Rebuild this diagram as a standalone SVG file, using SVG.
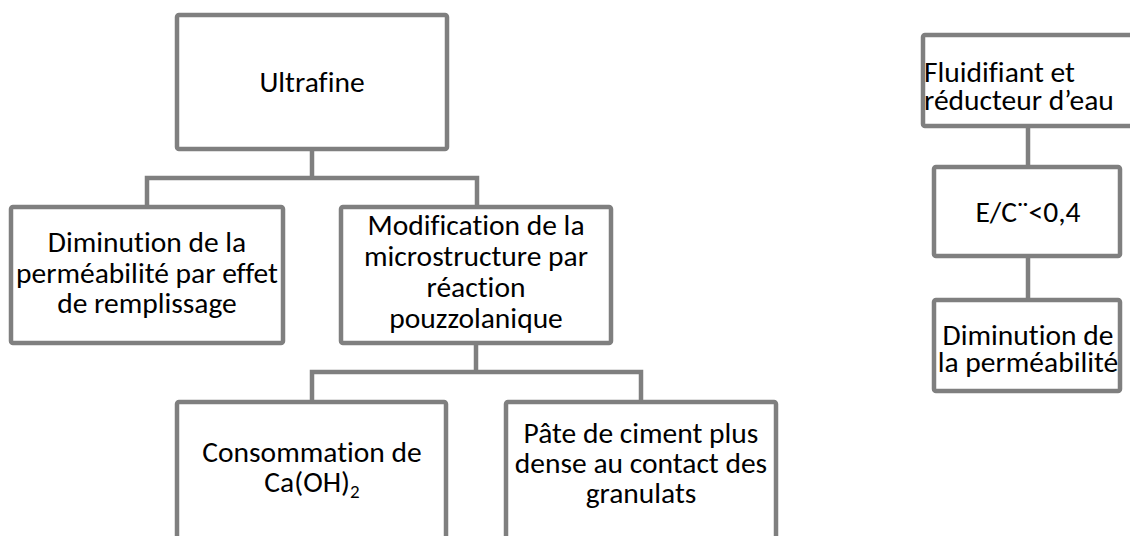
<svg xmlns="http://www.w3.org/2000/svg" width="1130" height="536" viewBox="0 0 1130 536">
<style>
.box{fill:#fff;stroke:#7f7f7f;stroke-width:4.5}
.con{fill:none;stroke:#7f7f7f;stroke-width:4.5}
text{font-family:Carlito,Calibri,Lato,"Liberation Sans",sans-serif;font-size:29.5px;fill:#000;text-anchor:middle;font-variant-ligatures:none;font-feature-settings:"liga" 0,"dlig" 0}
.l{text-anchor:start}
</style>
<rect width="1130" height="536" fill="#fff"/>
<g id="connectors">
<path class="con" d="M312 149V178M147 207V178H477V207"/>
<path class="con" d="M476 343V372M312 402V372H641V402"/>
<path class="con" d="M1028 126V167M1028 256V300"/>
</g>
<g id="ultrafine"><rect class="box" x="177" y="15" width="270" height="134" rx="2"/>
<text x="312" y="92">Ultrafine</text></g>
<g id="diminution"><rect class="box" x="11" y="207" width="272" height="136" rx="2"/>
<text x="147" y="252">Diminution de la<tspan x="147" dy="30.5">perméabilité par effet</tspan><tspan x="147" dy="30.5">de remplissage</tspan></text></g>
<g id="modification"><rect class="box" x="341" y="207" width="270" height="136" rx="2"/>
<text x="476" y="235">Modification de la<tspan x="476" dy="31">microstructure par</tspan><tspan x="476" dy="31">réaction</tspan><tspan x="476" dy="31">pouzzolanique</tspan></text></g>
<g id="consommation"><rect class="box" x="177" y="402" width="269" height="142" rx="2"/>
<text x="312" y="462">Consommation de<tspan x="312" dy="30">Ca(OH)</tspan><tspan font-size="19" dy="6">2</tspan></text></g>
<g id="pate"><rect class="box" x="506" y="402" width="270" height="142" rx="2"/>
<text x="641" y="443">Pâte de ciment plus<tspan x="641" dy="30">dense au contact des</tspan><tspan x="641" dy="29.5">granulats</tspan></text></g>
<g id="fluidifiant"><rect class="box" x="923" y="35" width="220" height="91" rx="2"/>
<text class="l" x="924" y="82">Fluidifiant et<tspan x="924" dy="28">réducteur d’eau</tspan></text></g>
<g id="ec"><rect class="box" x="934" y="167" width="186" height="89" rx="2"/>
<text x="1028" y="222">E/C¨&lt;0,4</text></g>
<g id="diminution2"><rect class="box" x="934" y="300" width="186" height="91" rx="2"/>
<text x="1028" y="345">Diminution de<tspan x="1028" dy="27">la perméabilité</tspan></text></g>
</svg>
